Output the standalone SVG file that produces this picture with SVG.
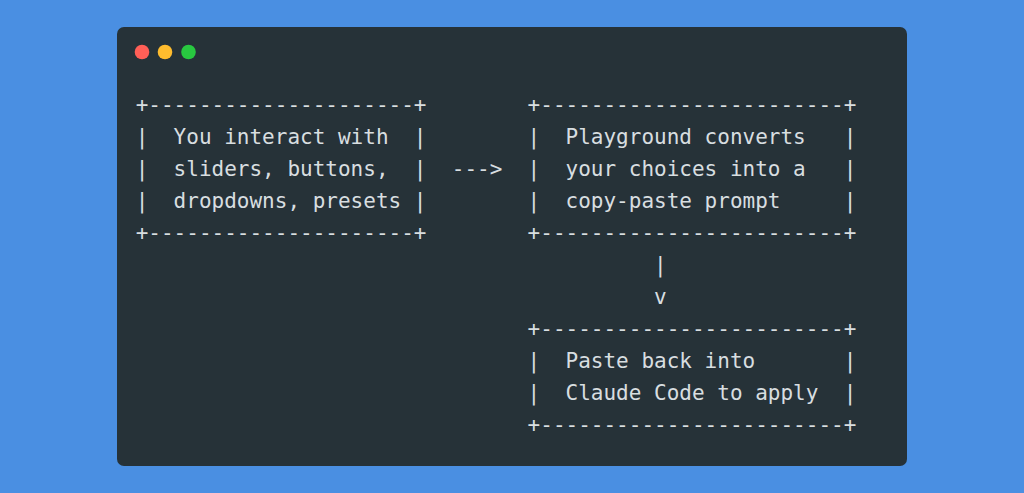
<svg xmlns="http://www.w3.org/2000/svg" width="1024" height="493" viewBox="0 0 1024 493">
<style>
.t{font-family:"DejaVu Sans Mono","Liberation Mono",monospace;font-size:21px;fill:#D8DEE0;white-space:pre}
</style>
<rect x="0" y="0" width="1024" height="493" fill="#4A8FE2"/>
<rect id="window" x="117" y="27" width="790" height="439" rx="7" fill="#263238"/>
<g id="dots">
<circle cx="142" cy="52" r="7.3" fill="#FF5F57"/>
<circle cx="165" cy="52" r="7.3" fill="#FEBC2E"/>
<circle cx="188.5" cy="52" r="7.3" fill="#28C840"/>
</g>
<g id="node-interact" class="t" xml:space="preserve">
<text class="t" x="135.7" y="111.5">+---------------------+</text>
<text class="t" x="135.7" y="143.5">|  You interact with  |</text>
<text class="t" x="135.7" y="175.5">|  sliders, buttons,  |</text>
<text class="t" x="135.7" y="207.5">|  dropdowns, presets |</text>
<text class="t" x="135.7" y="239.5">+---------------------+</text>
</g>
<g id="node-playground" class="t" xml:space="preserve">
<text class="t" x="527.6" y="111.5">+------------------------+</text>
<text class="t" x="527.6" y="143.5">|  Playground converts   |</text>
<text class="t" x="527.6" y="175.5">|  your choices into a   |</text>
<text class="t" x="527.6" y="207.5">|  copy-paste prompt     |</text>
<text class="t" x="527.6" y="239.5">+------------------------+</text>
</g>
<g id="node-paste" class="t" xml:space="preserve">
<text class="t" x="527.6" y="335.5">+------------------------+</text>
<text class="t" x="527.6" y="367.5">|  Paste back into       |</text>
<text class="t" x="527.6" y="399.5">|  Claude Code to apply  |</text>
<text class="t" x="527.6" y="431.5">+------------------------+</text>
</g>
<g id="connectors" class="t" xml:space="preserve">
<text class="t" x="451.8" y="175.5">---&gt;</text>
<text class="t" x="654.1" y="271.5">|</text>
<text class="t" x="654.1" y="303.5">v</text>
</g>
</svg>
